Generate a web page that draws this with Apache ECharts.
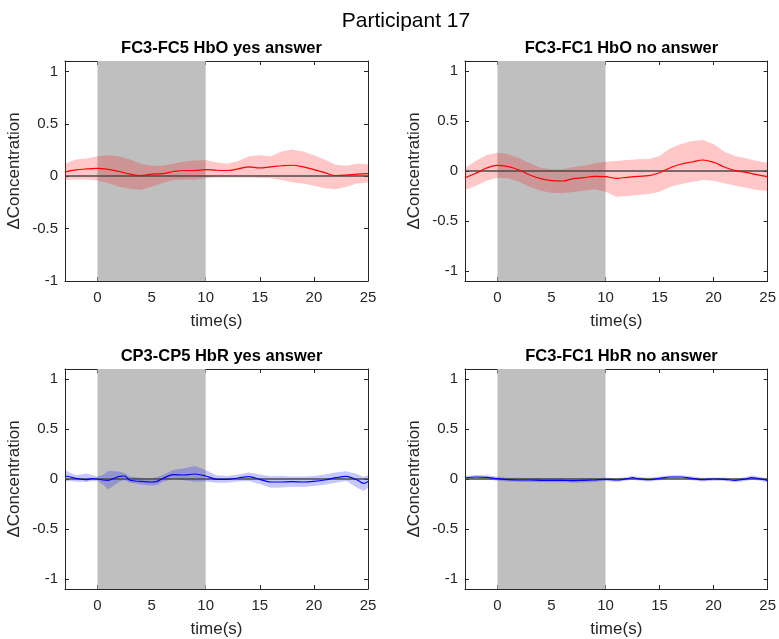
<!DOCTYPE html>
<html><head><meta charset="utf-8">
<script src="https://cdn.jsdelivr.net/npm/echarts@6/dist/echarts.min.js"></script>
<style>html,body{margin:0;padding:0;background:#fff}#c{width:779px;height:639px}</style>
</head><body><div id="c"></div>
<script>
const mainTitle = 'Participant 17';
const panelTitles = ['FC3-FC5 HbO yes answer', 'FC3-FC1 HbO no answer', 'CP3-CP5 HbR yes answer', 'FC3-FC1 HbR no answer'];
const xName = 'time(s)';
const yName = '\u0394Concentration';
const xTicks = [0, 5, 10, 15, 20, 25];
const yTicks = [-1, -0.5, 0, 0.5, 1];
const xRange = [-3, 25];
const yMins = [-1, -1.1, -1.1, -1.1];
const yMax = 1.1;
const stimStart = 0, stimEnd = 10;

// Panel 1: FC3-FC5 HbO yes
const t1 = [-3,-2,-1,0,1,2,3,4,5,6,7,8,9,10,11,12,13,14,15,16,17,18,19,20,21,22,23,24,25];
const mean1 = [0.04,0.06,0.07,0.075,0.065,0.045,0.02,0.005,0.02,0.025,0.045,0.055,0.055,0.063,0.057,0.055,0.07,0.09,0.08,0.09,0.1,0.105,0.09,0.063,0.035,0.006,0.01,0.02,0.025];
const upper1 = [0.12,0.16,0.17,0.19,0.2,0.19,0.16,0.12,0.1,0.1,0.12,0.14,0.15,0.155,0.13,0.12,0.145,0.19,0.2,0.19,0.235,0.255,0.235,0.2,0.16,0.11,0.1,0.12,0.115];
const lower1 = [-0.035,-0.03,-0.03,-0.04,-0.065,-0.1,-0.12,-0.13,-0.1,-0.065,-0.035,-0.03,-0.03,-0.02,-0.013,-0.013,-0.013,-0.013,-0.016,-0.02,-0.035,-0.057,-0.07,-0.09,-0.115,-0.125,-0.1,-0.07,-0.06];

// Panel 2: FC3-FC1 HbO no
const t2 = [-3,-2,-1,0,1,2,3,4,5,6,7,8,9,10,11,12,13,14,15,16,17,18,19,20,21,22,23,24,25];
const mean2 = [-0.067,-0.023,0.03,0.057,0.043,0.01,-0.04,-0.077,-0.097,-0.1,-0.077,-0.067,-0.053,-0.057,-0.073,-0.063,-0.053,-0.047,-0.017,0.033,0.07,0.09,0.11,0.087,0.04,0.003,-0.013,-0.037,-0.057];
const upper2 = [0.033,0.1,0.16,0.183,0.167,0.127,0.077,0.033,0.017,0.017,0.037,0.053,0.077,0.093,0.1,0.11,0.117,0.12,0.15,0.227,0.27,0.3,0.31,0.27,0.193,0.15,0.127,0.1,0.083];
const lower2 = [-0.19,-0.147,-0.097,-0.067,-0.073,-0.107,-0.157,-0.197,-0.217,-0.223,-0.21,-0.197,-0.183,-0.207,-0.257,-0.25,-0.24,-0.23,-0.207,-0.157,-0.13,-0.11,-0.09,-0.097,-0.123,-0.147,-0.167,-0.19,-0.2];

// Panel 3: CP3-CP5 HbR yes
const t3 = [-3,-2.5,-2,-1,-0.5,0,0.5,1,2,2.5,3,4,5,5.5,6,7,8,9,10,11,12,13,14,15,16,17,18,19,20,21,22,23,24,24.6,25];
const mean3 = [0.03,0.02,0.007,-0.007,0.003,0,-0.01,-0.013,0.027,0.03,-0.013,-0.024,-0.03,-0.024,0.003,0.044,0.04,0.05,0.03,-0.003,-0.003,0.01,0.024,-0.003,-0.03,-0.03,-0.027,-0.03,-0.024,-0.01,0.013,0.027,-0.01,-0.044,-0.024];
const upper3 = [0.09,0.06,0.037,0.054,0.04,0.024,0.04,0.08,0.074,0.06,0.024,0.013,0.003,0.02,0.037,0.09,0.108,0.13,0.09,0.037,0.03,0.044,0.064,0.044,0.027,0.03,0.024,0.024,0.03,0.044,0.064,0.077,0.05,0.02,0.037];
const lower3 = [-0.024,-0.02,-0.027,-0.03,-0.02,-0.02,-0.054,-0.104,-0.03,-0.01,-0.037,-0.054,-0.064,-0.06,-0.03,0.003,-0.013,-0.027,-0.024,-0.037,-0.037,-0.024,-0.02,-0.05,-0.088,-0.084,-0.077,-0.081,-0.071,-0.057,-0.037,-0.02,-0.087,-0.12,-0.087];

// Panel 4: FC3-FC1 HbR no
const t4 = [-3,-2,-1,0,1,2,3,4,5,6,7,8,9,10,11,12,12.5,13,14,15,16,17,18,19,20,21,22,23,23.5,24,25];
const mean4 = [0.01,0.02,0.017,0.003,-0.007,-0.01,-0.01,-0.013,-0.013,-0.013,-0.017,-0.013,-0.01,-0.003,-0.01,0.003,0.013,0.003,-0.007,0.007,0.02,0.02,0.007,-0.007,0,-0.003,-0.013,0,0.013,0.007,-0.013];
const upper4 = [0.03,0.04,0.037,0.025,0.013,0.012,0.01,0.007,0.006,0.006,0.003,0.005,0.008,0.012,0.01,0.02,0.03,0.022,0.012,0.025,0.038,0.037,0.025,0.012,0.016,0.014,0.006,0.02,0.035,0.027,0.008];
const lower4 = [-0.01,0.0,-0.003,-0.018,-0.026,-0.03,-0.03,-0.033,-0.033,-0.033,-0.037,-0.035,-0.03,-0.02,-0.03,-0.015,-0.005,-0.016,-0.026,-0.012,0.002,0.002,-0.012,-0.026,-0.018,-0.02,-0.032,-0.02,-0.008,-0.013,-0.033];

const panels = [
  {t: t1, mean: mean1, upper: upper1, lower: lower1, line: '#ff0000', band: 'rgba(255,0,0,0.22)', smooth: 0.4},
  {t: t2, mean: mean2, upper: upper2, lower: lower2, line: '#ff0000', band: 'rgba(255,0,0,0.22)', smooth: 0.4},
  {t: t3, mean: mean3, upper: upper3, lower: lower3, line: '#0000ff', band: 'rgba(0,0,255,0.22)', smooth: 0.3},
  {t: t4, mean: mean4, upper: upper4, lower: lower4, line: '#0000ff', band: 'rgba(0,0,255,0.22)', smooth: 0.3}
];

const FONT = "'Liberation Sans', Arial, sans-serif";
const AX = '#262626';
const gridPos = [
  {left: 65, top: 61}, {left: 465, top: 61},
  {left: 65, top: 369}, {left: 465, top: 369}
];
const GW = 303, GH = 220;

const grid = gridPos.map(g => ({left: g.left, top: g.top, width: GW, height: GH, containLabel: false}));
const xAxis = [], yAxis = [], series = [];
const title = [{
  text: mainTitle, left: 401, top: 6, textAlign: 'center',
  textStyle: {fontFamily: FONT, fontSize: 21, fontWeight: 'normal', color: '#000'}
}];

panels.forEach((p, i) => {
  const g = gridPos[i];
  title.push({
    text: panelTitles[i], left: g.left + GW / 2, top: g.top - 26, textAlign: 'center',
    textStyle: {fontFamily: FONT, fontSize: 16.5, fontWeight: 'bold', color: '#000'}
  });
  const tickStyle = {show: true, inside: true, length: 4, lineStyle: {color: AX, width: 1}};
  xAxis.push({
    type: 'value', gridIndex: i, min: xRange[0], max: xRange[1], position: 'bottom',
    axisLine: {show: true, onZero: false, lineStyle: {color: AX, width: 1}},
    axisTick: Object.assign({customValues: xTicks}, tickStyle),
    axisLabel: {customValues: xTicks, fontFamily: FONT, fontSize: 15, color: AX, margin: 9},
    splitLine: {show: false},
    name: xName, nameLocation: 'middle', nameGap: 32,
    nameTextStyle: {fontFamily: FONT, fontSize: 17, color: AX}
  });
  xAxis.push({
    type: 'value', gridIndex: i, min: xRange[0], max: xRange[1], position: 'top',
    axisLine: {show: true, onZero: false, lineStyle: {color: AX, width: 1}},
    axisTick: Object.assign({customValues: xTicks}, tickStyle),
    axisLabel: {show: false}, splitLine: {show: false}
  });
  yAxis.push({
    type: 'value', gridIndex: i, min: yMins[i], max: yMax, position: 'left',
    axisLine: {show: true, onZero: false, lineStyle: {color: AX, width: 1}},
    axisTick: Object.assign({customValues: yTicks}, tickStyle),
    axisLabel: {customValues: yTicks, fontFamily: FONT, fontSize: 15, color: AX, margin: 7},
    splitLine: {show: false},
    name: yName, nameLocation: 'middle', nameGap: 42, nameRotate: 90,
    nameTextStyle: {fontFamily: FONT, fontSize: 17, color: AX}
  });
  yAxis.push({
    type: 'value', gridIndex: i, min: yMins[i], max: yMax, position: 'right',
    axisLine: {show: true, onZero: false, lineStyle: {color: AX, width: 1}},
    axisTick: Object.assign({customValues: yTicks}, tickStyle),
    axisLabel: {show: false}, splitLine: {show: false}
  });
  const xi = i * 2, yi = i * 2;
  // confidence band as one polygon through the axis scales
  series.push({
    type: 'custom', xAxisIndex: xi, yAxisIndex: yi, silent: true, z: 3,
    data: p.t.map((t, k) => [t, p.lower[k], p.upper[k]]),
    encode: {x: 0, y: [1, 2]},
    renderItem: function (params, api) {
      if (params.dataIndex !== 0) return null;
      const top = [], bot = [];
      for (let k = 0; k < p.t.length; k++) {
        top.push(api.coord([p.t[k], p.upper[k]]));
        bot.push(api.coord([p.t[k], p.lower[k]]));
      }
      return {
        type: 'polygon',
        shape: {points: top.concat(bot.reverse())},
        style: {fill: p.band, stroke: null}
      };
    },
    markArea: {
      silent: true, z: 1,
      itemStyle: {color: '#bfbfbf', opacity: 1},
      data: [[{xAxis: stimStart}, {xAxis: stimEnd}]]
    }
  });
  series.push({
    type: 'line', xAxisIndex: xi, yAxisIndex: yi,
    data: p.t.map((t, k) => [t, p.mean[k]]),
    symbol: 'none', smooth: p.smooth,
    lineStyle: {color: p.line, width: 1.2}, silent: true, z: 5,
    markLine: {
      silent: true, symbol: 'none', z: 4, label: {show: false},
      lineStyle: {color: '#4a4a4a', width: 1.5, type: 'solid'},
      data: [{yAxis: 0}]
    }
  });
});

const chart = echarts.init(document.getElementById('c'), null, {renderer: 'canvas'});
chart.setOption({
  animation: false,
  backgroundColor: '#ffffff',
  title, grid, xAxis, yAxis, series
});
</script>
</body></html>
